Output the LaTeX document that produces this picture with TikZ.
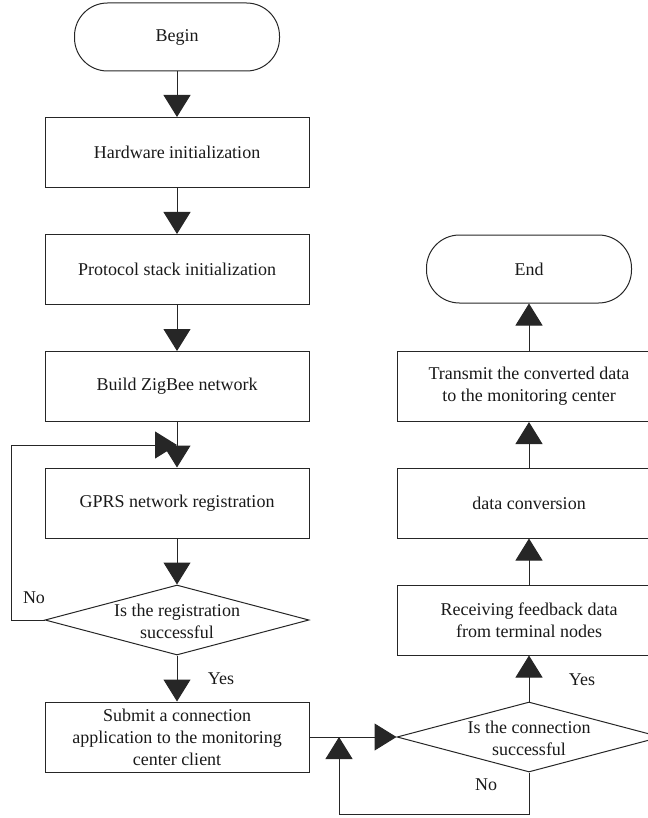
\documentclass[tikz,border=0pt]{standalone}
\usepackage{fontspec}
\setmainfont{Liberation Serif}
\usetikzlibrary{arrows.meta,shapes.geometric}
\begin{document}
\begin{tikzpicture}[x=1pt,y=-1pt,line width=1pt,
  every node/.style={font=\fontsize{18}{22}\selectfont, text=black!90},
  box/.style={draw=black!85, rectangle, minimum width=264pt, minimum height=70pt,
    inner sep=0pt, align=center},
  term/.style={draw=black!85, rectangle, rounded corners=33pt, minimum width=205pt,
    minimum height=68pt, inner sep=0pt, align=center},
  dia/.style={draw=black!85, diamond, minimum width=264pt, minimum height=70pt,
    inner sep=0pt},
  arr/.style={draw=black!85, -{Triangle[width=27pt,length=22pt]}, line join=miter},
  lbl/.style={inner sep=0pt}]
\useasboundingbox (0,0) rectangle (647,818);

% left column
\node[term] (begin) at (177,37) {Begin};
\node[box] (hw) at (177,152.5) {Hardware initialization};
\node[box] (ps) at (177,269.5) {Protocol stack initialization};
\node[box] (zb) at (177,386.5) {Build ZigBee network};
\node[box] (gprs) at (177,503) {GPRS network registration};
\node[dia] (d1) at (177,620) {};
\node[lbl, align=center] (d1t) at (177,621) {Is the registration\\successful};
\node[box] (sub) at (177,737) {Submit a connection\\application to the monitoring\\center client};

% right column
\node[term] (end) at (529,269) {End};
\node[box] (tx) at (529,386.5) {Transmit the converted data\\to the monitoring center};
\node[box] (conv) at (529,503) {data conversion};
\node[box] (recv) at (529,620) {Receiving feedback data\\from terminal nodes};
\node[dia] (d2) at (529,737) {};
\node[lbl, align=center] (d2t) at (529,738) {Is the connection\\successful};

% branch labels
\node[lbl] (no1) at (34,598) {No};
\node[lbl] (yes1) at (221,679) {Yes};
\node[lbl] (yes2) at (582,680) {Yes};
\node[lbl] (no2) at (486,785) {No};

% merge points of the loops
\coordinate (m1) at (177,445);
\coordinate (m2) at (339,737);

% main flow
\draw[arr] (begin) -- (hw);
\draw[arr] (hw) -- (ps);
\draw[arr] (ps) -- (zb);
\draw[arr] (zb) -- (gprs);
\draw[arr] (gprs) -- (d1.north);
\draw[arr] (d1.south) -- (sub);
\draw[arr] (sub.east) -- (d2.west);
\draw[arr] (d2.north) -- (recv);
\draw[arr] (recv) -- (conv);
\draw[arr] (conv) -- (tx);
\draw[arr] (tx) -- (end);

% retry loops
\draw[arr] (d1.west) -- ++(-33,0) |- (m1);
\draw[arr] (d2.south) -- ++(0,42) -| (m2);
\end{tikzpicture}
\end{document}
